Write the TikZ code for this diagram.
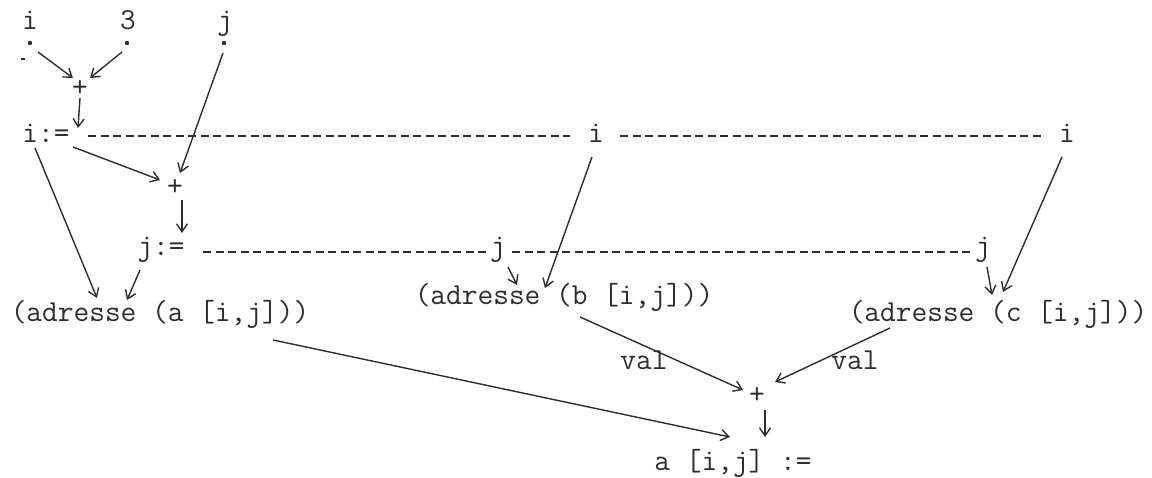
\documentclass[tikz,border=0pt]{standalone}
\usepackage{fontspec}
\usetikzlibrary{arrows.meta}
\definecolor{ink}{RGB}{45,45,45}
\begin{document}
\begin{tikzpicture}[x=1pt,y=-1pt,
  lbl/.style={font=\fontsize{30.5}{32}\selectfont\ttfamily, text=ink, inner sep=0pt, anchor=base},
  op/.style={font=\fontsize{30.5}{32}\selectfont\ttfamily, text=ink, inner sep=0pt},
  arr/.style={draw=ink, line width=1.4pt, -{Straight Barb[length=8pt,width=11pt,line width=1.4pt]}},
  dashline/.style={draw=ink, line width=1.2pt, dash pattern=on 8pt off 4.5pt}]
\useasboundingbox (0,0) rectangle (1152,478);
% top operands
\node[lbl] (i1) at (30,30) {i};
\node[lbl] (n3) at (128,30) {3};
\node[lbl] (j1) at (225,30) {j};
\coordinate (d1) at (30,43);
\coordinate (d2) at (127,43);
\coordinate (d3) at (224,43);
\fill[ink] (d1) circle (2.2);
\fill[ink] (d2) circle (2.2);
\fill[ink] (d3) circle (2.2);
\fill[ink] (21,58) rectangle (25,60);
% operators and assignments
\node[op] (p1) at (80,88) {+};
\node[lbl] (ia) at (46,143) {i:=};
\node[lbl] (i2) at (596,143) {i};
\node[lbl] (i3) at (1067,143) {i};
\node[op] (p2) at (175,187) {+};
\node[lbl] (ja) at (161,256) {j:=};
\node[lbl] (j2) at (498,256) {j};
\node[lbl] (j3) at (983,256) {j};
% address expressions
\node[lbl] (adra) at (160,322) {(adresse (a [i,j]))};
\node[lbl] (adrb) at (564,305) {(adresse (b [i,j]))};
\node[lbl] (adrc) at (998,322) {(adresse (c [i,j]))};
\node[op] (p3) at (757,395) {+};
\node[lbl] (res) at (733,470) {a [i,j] :=};
\node[lbl] (val1) at (644,370) {val};
\node[lbl] (val2) at (855,370) {val};
% dashed lines
\coordinate (da1) at (88,136);
\coordinate (da2) at (570,136);
\coordinate (da3) at (620,136);
\coordinate (da4) at (1041,136);
\coordinate (db1) at (203,252);
\coordinate (db2) at (490,252);
\coordinate (db3) at (512,252);
\coordinate (db4) at (973,252);
\draw[dashline] (da1) -- (da2);
\draw[dashline] (da3) -- (da4);
\draw[dashline] (db1) -- (db2);
\draw[dashline] (db3) -- (db4);
% arrows
\draw[arr] ([shift={(8,9)}]d1) -- ([shift={(-7,-10)}]p1.center);
\draw[arr] ([shift={(-5,9)}]d2) -- ([shift={(10,-10)}]p1.center);
\draw[arr] ([shift={(0,10)}]p1.center) -- ([shift={(32,-15)}]ia.base);
\draw[arr] ([shift={(27,4)}]ia.base) -- ([shift={(-15,-7)}]p2.center);
\draw[arr] ([shift={(-1,10)}]d3) -- ([shift={(5,-14)}]p2.center);
\draw[arr] ([shift={(7,13)}]p2.center) -- ([shift={(21,-23)}]ja.base);
\draw[arr] ([shift={(-11,5)}]ia.base) -- ([shift={(-63,-24)}]adra.base);
\draw[arr] ([shift={(-21,14)}]ja.base) -- ([shift={(-33,-22)}]adra.base);
\draw[arr] ([shift={(-4,14)}]i2.base) -- ([shift={(-19,-17)}]adrb.base);
\draw[arr] ([shift={(10,11)}]j2.base) -- ([shift={(-47,-20)}]adrb.base);
\draw[arr] ([shift={(-5,14)}]i3.base) -- ([shift={(5,-30)}]adrc.base);
\draw[arr] ([shift={(4,11)}]j3.base) -- ([shift={(-6,-27)}]adrc.base);
\draw[arr] ([shift={(113,18)}]adra.base) -- ([shift={(-3,-33)}]res.base);
\draw[arr] ([shift={(16,12)}]adrb.base) -- ([shift={(-14,-5)}]p3.center);
\draw[arr] ([shift={(-108,6)}]adrc.base) -- ([shift={(18,-13)}]p3.center);
\draw[arr] ([shift={(8,15)}]p3.center) -- ([shift={(32,-33)}]res.base);
\end{tikzpicture}
\end{document}
